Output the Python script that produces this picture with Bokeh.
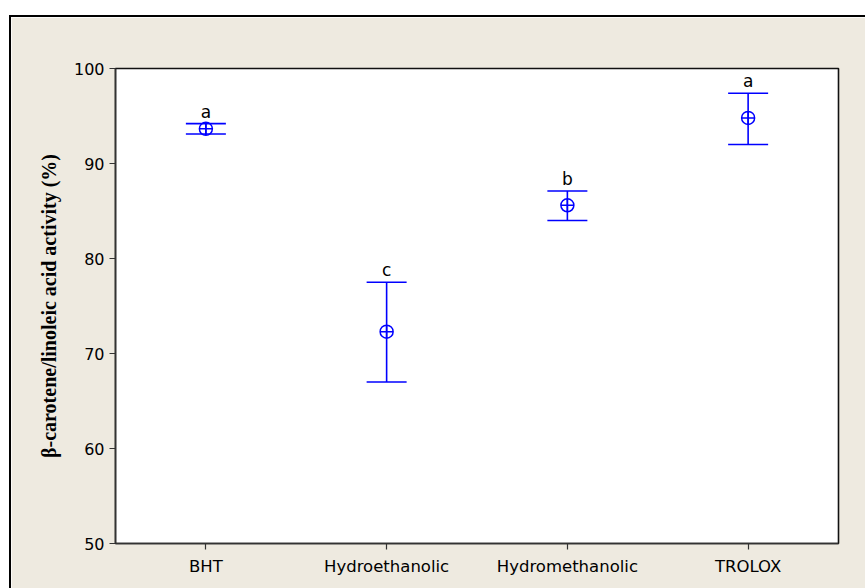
from bokeh.plotting import figure
from bokeh.models import ColumnDataSource, Whisker, TeeHead
from bokeh.core.properties import value
from bokeh.embed import file_html
from bokeh.resources import INLINE

groups = ["BHT", "Hydroethanolic", "Hydromethanolic", "TROLOX"]
means = [93.65, 72.3, 85.6, 94.8]
lower = [93.1, 67.0, 84.0, 92.0]
upper = [94.2, 77.5, 87.1, 97.4]
letters = ["a", "c", "b", "a"]
y_ticks = [50, 60, 70, 80, 90, 100]

BEIGE = "#EEEAE0"
BLUE = "#0000FF"
FONT = "DejaVu Sans"

src = ColumnDataSource(dict(g=groups, mean=means, lower=lower, upper=upper, letter=letters))

p = figure(x_range=groups, y_range=(50, 100),
           width=854, height=571,
           frame_width=723, frame_height=475,
           min_border_left=104, min_border_top=51, min_border_right=27, min_border_bottom=45,
           output_backend="svg", toolbar_location=None)
p.styles = {"margin-top": "15px", "margin-left": "9px",
            "border-top": "2px solid black", "border-left": "2px solid black"}

p.background_fill_color = "white"
p.border_fill_color = BEIGE
p.outline_line_color = "#111111"
p.outline_line_width = 1.6
p.xgrid.visible = False
p.ygrid.visible = False

w = Whisker(base="g", upper="upper", lower="lower", source=src,
            line_color=BLUE, line_width=1.6,
            upper_head=TeeHead(size=40, line_color=BLUE, line_width=1.6),
            lower_head=TeeHead(size=40, line_color=BLUE, line_width=1.6),
            level="glyph")
p.add_layout(w)

p.scatter(x="g", y="mean", source=src, marker="circle_cross", size=13,
          fill_color=None, line_color=BLUE, line_width=1.5)

p.text(x="g", y="upper", text="letter", source=src, y_offset=-12,
       text_align="center", text_baseline="alphabetic",
       text_font=value(FONT), text_font_size="17px", text_color="black")

for ax in (p.xaxis[0], p.yaxis[0]):
    ax.axis_line_color = "#333333"
    ax.axis_line_width = 1.5
    ax.major_tick_line_color = "#333333"
    ax.major_tick_line_width = 1.2
    ax.major_tick_out = 6
    ax.major_tick_in = 0
    ax.minor_tick_line_color = None
    ax.major_label_text_font = FONT
    ax.major_label_text_color = "black"

p.yaxis.major_label_text_font_size = "16px"
p.xaxis.major_label_text_font_size = "16.5px"
p.yaxis.ticker = y_ticks
p.yaxis.major_label_standoff = 5
p.xaxis.major_label_standoff = 7
p.yaxis.axis_label = "\u03b2-carotene/linoleic acid activity (%)"
p.yaxis.axis_label_text_font = "Liberation Serif"
p.yaxis.axis_label_text_font_style = "bold"
p.yaxis.axis_label_text_font_size = "20px"
p.yaxis.axis_label_text_color = "black"
p.yaxis.axis_label_standoff = 11

open("out.html", "w").write(file_html(p, INLINE))
